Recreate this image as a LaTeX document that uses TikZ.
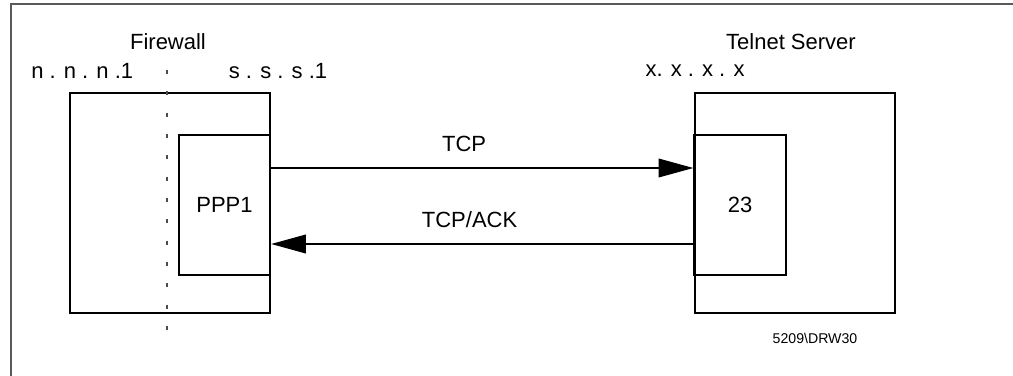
\documentclass[tikz,border=0pt]{standalone}
\usepackage{fontspec}
\setmainfont{Liberation Sans}
\usetikzlibrary{arrows.meta}

\begin{document}
\begin{tikzpicture}[x=0.75pt, y=-0.75pt,
  every node/.style={font=\fontsize{16.5}{18}\selectfont, inner sep=0pt},
  box/.style={draw, line width=1.5pt, minimum width=#1},
  outerbox/.style={box=150pt, minimum height=165pt},
  innerbox/.style={box=68.5pt, minimum height=105pt},
  arr/.style={line width=1.1pt, -{Triangle[length=26pt, width=14pt]}}]
  % page frame
  \useasboundingbox (0,0) rectangle (1013,375);
  \draw[line width=1.5pt, black!65] (11,380) -- (11,4) -- (1020,4);

  % firewall
  \node[outerbox] (fw) at (170,203) {};
  \node[innerbox] (ppp) at (224.5,205) {PPP1};
  \draw[black!70, line width=0.8pt, dash pattern=on 3pt off 13pt] (167,70) -- (167,335);
  \node (fwlabel) at (168,42) {Firewall};
  \node[anchor=west] (nip) at (31,71) {n . n . n .1};
  \node (sip) at (278,71) {s . s . s .1};

  % telnet server
  \node[outerbox] (srv) at (794.5,203) {};
  \node[innerbox] (port) at (740,205) {23};
  \node (srvlabel) at (791,42) {Telnet Server};
  \node (xip) at (695,71) {x. x . x . x};
  \node[font=\fontsize{10.6}{12}\selectfont] (drw) at (815,338) {5209\textbackslash DRW30};

  % connections
  \draw[arr] ([yshift=27.75pt]ppp.east) -- node[pos=0.457, above=12pt] {TCP} ([yshift=27.75pt]port.west);
  \draw[arr] ([yshift=-29.25pt]port.west) -- node[pos=0.53, above=12pt] {TCP/ACK} ([yshift=-29.25pt]ppp.east);
\end{tikzpicture}
\end{document}
